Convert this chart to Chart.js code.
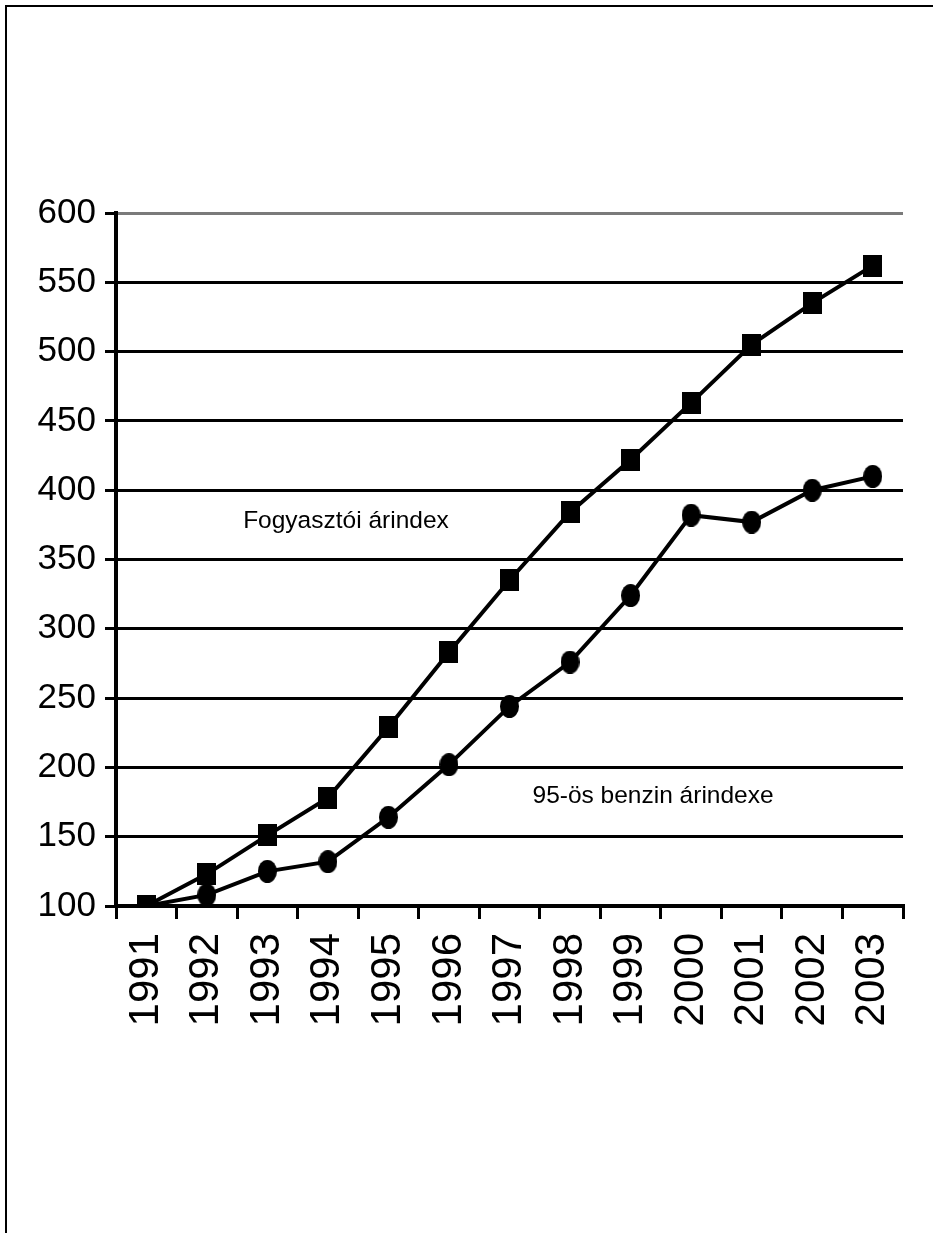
<!DOCTYPE html>
<html>
<head>
<meta charset="utf-8">
<script src="https://cdn.jsdelivr.net/npm/chart.js@4.4.1/dist/chart.umd.min.js"></script>
<style>
  html, body { margin: 0; padding: 0; background: #fff; }
  #wrap { position: relative; width: 933px; height: 1233px; overflow: hidden; }
  #frame { position: absolute; left: 5px; top: 5px; width: 1000px; height: 1300px;
           border-left: 2px solid #000; border-top: 2px solid #000; }
  #c { position: absolute; left: 0; top: 0; }
</style>
</head>
<body>
<div id="wrap">
  <div id="frame"></div>
  <canvas id="c" width="933" height="1233"></canvas>
</div>
<script>
// Years on the category axis
const years = ['1991', '1992', '1993', '1994', '1995', '1996', '1997',
               '1998', '1999', '2000', '2001', '2002', '2003'];
// Consumer price index, 1991 = 100
const cpiIndex = [100, 123, 151, 178, 229, 283, 335, 384, 422, 463, 505, 535, 562];
// Price index of 95-octane petrol, 1991 = 100
const petrolIndex = [100, 108, 125, 132, 164, 202, 244, 276, 324, 382, 377, 400, 410];
// Value axis ticks
const yTicks = [100, 150, 200, 250, 300, 350, 400, 450, 500, 550, 600];
// Series names written next to the lines
const seriesNames = ['Fogyasztói árindex', '95-ös benzin árindexe'];

const SANS = '"Liberation Sans", Arial, sans-serif';

function marker(w, h, shape) {
  const c = document.createElement('canvas');
  c.width = w; c.height = h;
  const g = c.getContext('2d');
  g.fillStyle = '#000';
  if (shape === 'rect') {
    g.fillRect(0, 0, w, h);
  } else {
    g.beginPath();
    g.ellipse(w / 2, h / 2, w / 2, h / 2, 0, 0, Math.PI * 2);
    g.fill();
  }
  return c;
}
const squareMark = marker(19, 22, 'rect');
const roundMark = marker(19, 23, 'ellipse');

// Series names placed by category index / value on the chart's own scales
const seriesNotes = {
  id: 'seriesNotes',
  afterDatasetsDraw(chart, args, opts) {
    const { ctx, scales: { x, y } } = chart;
    ctx.save();
    ctx.fillStyle = '#000';
    ctx.textAlign = 'left';
    ctx.textBaseline = 'alphabetic';
    ctx.font = opts.size + 'px ' + SANS;
    opts.items.forEach(it => {
      ctx.fillText(it.text, x.getPixelForValue(it.at), y.getPixelForValue(it.value));
    });
    ctx.restore();
  }
};

new Chart(document.getElementById('c'), {
  type: 'line',
  data: {
    labels: years,
    datasets: [
      {
        label: seriesNames[0],
        data: cpiIndex,
        borderColor: '#000',
        borderWidth: 4,
        pointStyle: squareMark,
        tension: 0,
        fill: false
      },
      {
        label: seriesNames[1],
        data: petrolIndex,
        borderColor: '#000',
        borderWidth: 4,
        pointStyle: roundMark,
        tension: 0,
        fill: false
      }
    ]
  },
  plugins: [seriesNotes],
  options: {
    responsive: false,
    animation: false,
    devicePixelRatio: 1,
    layout: { padding: { top: 213, right: 30, left: 0, bottom: 0 } },
    plugins: {
      legend: { display: false },
      title: { display: false },
      tooltip: { enabled: false },
      seriesNotes: {
        size: 24.5,
        items: [
          { text: seriesNames[0], at: 1.6, value: 373 },
          { text: seriesNames[1], at: 6.38, value: 174 }
        ]
      }
    },
    scales: {
      x: {
        type: 'category',
        offset: true,
        grid: {
          offset: true,
          drawOnChartArea: false,
          drawTicks: true,
          tickLength: 13,
          color: '#000',
          lineWidth: 3
        },
        border: { display: true, color: '#000', width: 4 },
        ticks: {
          autoSkip: false,
          minRotation: 90,
          maxRotation: 90,
          padding: 14,
          color: '#000',
          font: { family: SANS, size: 42 }
        },
        afterFit(s) { s.height = 327; s.paddingLeft = 0; s.paddingRight = 0; }
      },
      y: {
        min: 100,
        max: 600,
        afterBuildTicks(s) { s.ticks = yTicks.map(v => ({ value: v })); },
        grid: {
          color: c => (c.tick && c.tick.value === 600 ? '#7a7a7a' : '#000'),
          lineWidth: 3,
          tickColor: '#000',
          tickLength: 11
        },
        border: { display: true, color: '#000', width: 4 },
        ticks: {
          padding: 9,
          color: '#000',
          font: { family: SANS, size: 35 }
        },
        afterFit(s) { s.width = 116; s.paddingTop = 0; s.paddingBottom = 0; }
      }
    }
  }
});
</script>
</body>
</html>
